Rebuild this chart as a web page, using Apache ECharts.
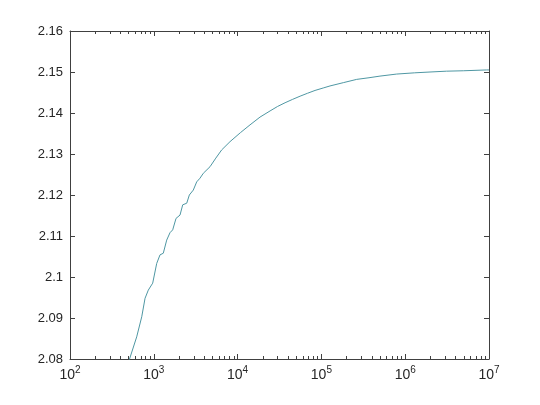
<!DOCTYPE html>
<html>
<head>
<meta charset="utf-8">
<script src="https://cdn.jsdelivr.net/npm/echarts@6/dist/echarts.min.js"></script>
<style>html,body{margin:0;padding:0;background:#fff}#c{width:540px;height:405px}</style>
</head>
<body>
<div id="c"></div>
<script>
// Data
var xValues = [480, 510, 625, 718, 786, 860, 970, 1083, 1186, 1298, 1425, 1560, 1681, 1842, 2055, 2213, 2472, 2655, 2960, 3250, 3558, 3898, 4688, 5500, 6460, 8110, 10800, 14060, 18500, 24380, 30000, 36830, 45000, 55630, 68000, 83940, 105000, 126700, 182500, 263600, 370000, 500000, 792000, 1300000, 1977000, 3100000, 4930000, 9370000, 10000000];
var yValues = [2.0785, 2.0798, 2.0854, 2.0903, 2.0948, 2.0968, 2.0985, 2.1033, 2.1054, 2.1058, 2.1090, 2.1108, 2.1115, 2.1143, 2.1151, 2.1176, 2.1180, 2.1200, 2.1212, 2.1232, 2.1241, 2.1253, 2.1269, 2.1290, 2.1310, 2.1330, 2.1352, 2.1371, 2.1390, 2.1405, 2.1416, 2.1425, 2.1433, 2.1441, 2.1448, 2.1455, 2.1461, 2.1466, 2.1474, 2.1482, 2.1486, 2.1490, 2.1495, 2.1498, 2.1500, 2.1502, 2.1503, 2.1505, 2.1505];
var xMajorTicks = [100, 1000, 10000, 100000, 1000000, 10000000];
var xMinorTicks = [200,300,400,500,600,700,800,900,2000,3000,4000,5000,6000,7000,8000,9000,20000,30000,40000,50000,60000,70000,80000,90000,200000,300000,400000,500000,600000,700000,800000,900000,2000000,3000000,4000000,5000000,6000000,7000000,8000000,9000000];
var yMin = 2.08, yMax = 2.16, yStep = 0.01;

var axisColor = '#404040';
var font = 'Liberation Sans, Arial, Helvetica, sans-serif';

var seriesData = xValues.map(function (x, i) { return [x, yValues[i]]; });

function xAxisDef(pos, ticks, len, showLabel, showLine) {
  return {
    type: 'log', logBase: 10, min: 100, max: 10000000, position: pos,
    axisLine: { show: showLine, onZero: false, lineStyle: { color: axisColor, width: 1 } },
    axisTick: { show: true, inside: true, length: len, customValues: ticks, lineStyle: { color: axisColor, width: 1 } },
    axisLabel: showLabel ? {
      show: true, margin: 6, customValues: ticks,
      formatter: function (v) { return '{b|10}{s|' + Math.round(Math.log10(v)) + '}'; },
      rich: {
        b: { fontSize: 14, fontFamily: font, color: '#262626' },
        s: { fontSize: 10, fontFamily: font, color: '#262626', padding: [0, 0, 10, 0] }
      }
    } : { show: false },
    splitLine: { show: false },
    minorTick: { show: false }
  };
}

var chart = echarts.init(document.getElementById('c'), null, { renderer: 'canvas' });
chart.setOption({
  backgroundColor: '#ffffff',
  animation: false,
  grid: { left: 70, right: 51, top: 31, bottom: 46, containLabel: false },
  xAxis: [
    xAxisDef('bottom', xMajorTicks, 5, true, true),
    xAxisDef('bottom', xMinorTicks, 3, false, false),
    xAxisDef('top', xMajorTicks, 5, false, true),
    xAxisDef('top', xMinorTicks, 3, false, false)
  ],
  yAxis: [
    {
      type: 'value', min: yMin, max: yMax, interval: yStep, position: 'left',
      axisLine: { show: true, lineStyle: { color: axisColor, width: 1 } },
      axisTick: { show: true, inside: true, length: 5, lineStyle: { color: axisColor } },
      axisLabel: { margin: 7, fontSize: 13, fontFamily: font, color: '#262626',
        formatter: function (v) { return String(+v.toFixed(2)); } },
      splitLine: { show: false }
    },
    {
      type: 'value', min: yMin, max: yMax, interval: yStep, position: 'right',
      axisLine: { show: true, lineStyle: { color: axisColor, width: 1 } },
      axisTick: { show: true, inside: true, length: 5, lineStyle: { color: axisColor } },
      axisLabel: { show: false },
      splitLine: { show: false }
    }
  ],
  series: [{
    type: 'line', xAxisIndex: 0, yAxisIndex: 0,
    data: seriesData, showSymbol: false, symbol: 'none', smooth: false,
    clip: true,
    lineStyle: { color: '#4f97a3', width: 1 }
  }]
});
</script>
</body>
</html>
